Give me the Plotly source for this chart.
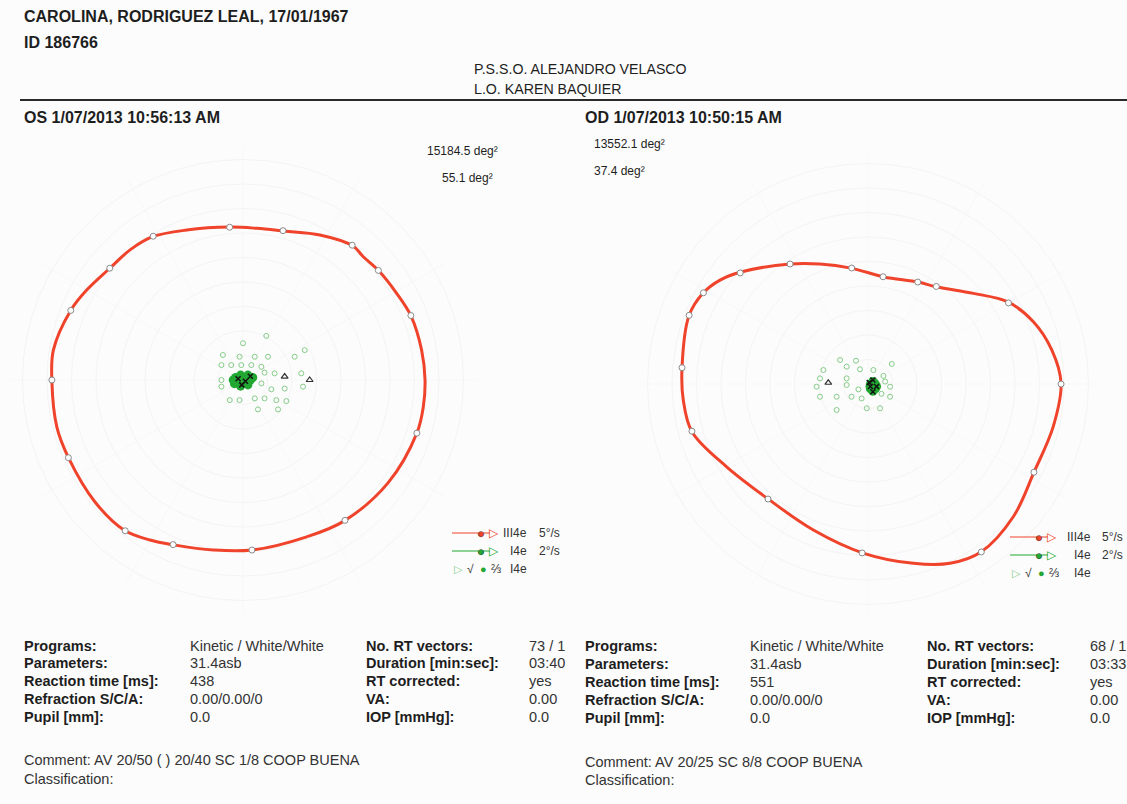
import numpy as np
import plotly.graph_objects as go

W, H = 1127, 804

# ------------------------------------------------------------------
# DATA
# ------------------------------------------------------------------
# III4e kinetic isopter vectors: meridian (deg, 0 = right, counter-clockwise), eccentricity (deg)
os_iii4e_meridian = [21, 39, 51, 75, 95, 122, 140, 158, 180, 204, 232, 247, 273, 306, 343]
os_iii4e_ecc = [73.4, 71.1, 70.8, 63.1, 62.6, 69.2, 71.0, 75.8, 78.0, 78.0, 78.1, 73.0, 69.5, 70.8, 74.2]

od_iii4e_meridian = [0, 30, 55, 64, 82, 98, 123, 139, 151, 159, 175, 195, 229, 268, 304, 332]
od_iii4e_ecc = [78.8, 66.2, 48.6, 46.3, 44.2, 47.8, 58.4, 69.1, 76.8, 78.2, 76.2, 74.4, 62.2, 69.0, 82.7, 76.7]

# III4e isopter outline as drawn (horizontal / vertical position in degrees)
os_outline_x = [74.3, 72.9, 68.6, 62.7, 55.5, 49.1, 44.9, 31.4, 16.7, 5.6, -5.3, -23.0, -37.1, -46.1,
                -54.7, -63.8, -70.2, -77.4, -78.0, -76.0, -71.0, -60.4, -48.6, -38.0, -28.2, -12.1,
                3.7, 26.0, 41.2, 59.2, 71.0, 73.6]
os_outline_y = [0.0, 12.2, 26.1, 35.4, 44.5, 50.3, 54.7, 59.2, 60.8, 61.9, 62.4, 61.2, 58.4, 53.1,
                45.3, 36.7, 28.6, 12.2, -0.4, -19.1, -32.2, -49.8, -61.2, -65.3, -67.3, -69.4,
                -69.4, -64.0, -57.6, -42.0, -21.6, -10.9]
od_outline_x = [78.8, 75.0, 67.5, 57.1, 43.0, 28.2, 20.4, 6.5, -6.9, -19.6, -31.8, -51.8, -60.4,
                -67.3, -73.1, -75.9, -75.4, -71.8, -57.7, -40.8, -22.3, -2.0, 18.5, 33.5, 46.1,
                59.3, 67.8, 75.6]
od_outline_y = [0.4, 13.9, 25.4, 33.5, 37.0, 39.6, 41.6, 43.7, 47.3, 49.0, 49.0, 45.7, 42.4,
                37.1, 27.8, 6.9, -6.5, -19.6, -33.8, -46.9, -59.6, -69.0, -73.2, -73.2, -68.6,
                -54.2, -35.9, -17.4]

# I4e static points (open = seen), horizontal / vertical position in degrees
os_i4e_open_x = [-8.2, -1.4, 4.8, 10.2, -8.8, -4.8, -0.7, 3.4, 7.5, 8.8, 12.9, -8.8, -8.8, 7.5, 11.6,
                 17.0, 24.5, -5.4, -1.4, 4.8, 8.8, 13.6, 17.7, 6.1, 14.3, 0.0, 9.5, 25.2, 21.1, 23.8]
os_i4e_open_y = [10.2, 9.5, 9.5, 9.5, 6.1, 6.1, 6.1, 6.1, 5.4, 3.0, 2.7, 0.0, -2.7, -1.4, -3.8,
                 -3.5, -2.7, -8.2, -8.2, -7.5, -7.5, -8.2, -8.6, -12.0, -12.0, 15.0, 18.0, 12.2, 9.5, 2.7]
# I4e dense central cluster (filled)
os_i4e_fill_x = [-3.0, -1.0, 1.0, 3.0, -2.0, 0.0, 2.0, -4.0, 4.0, 0.0, -1.0, 2.0, -3.5, 1.5]
os_i4e_fill_y = [1.0, 2.0, 1.0, 0.0, -1.0, -1.0, -2.0, 0.0, 1.0, 0.5, -2.5, 2.0, -1.5, -0.5]
# black marks inside cluster / blind spot
os_mark_x = [-2.0, 1.0, 3.0, -0.5]
os_mark_y = [0.5, -0.5, 1.5, -2.0]
os_blind_x = [17.0, 27.2]
os_blind_y = [1.4, 0.0]

od_i4e_open_x = [-11.4, -4.9, 9.7, -8.7, -3.3, 2.2, 6.3, -18.2, -19.6, -21.0, -19.6, -12.8, -8.7,
                 -6.7, -3.9, -2.6, 9.0, 9.0, -0.5, 4.9, -12.8, -8.7, 7.0, 5.5]
od_i4e_open_y = [9.8, 9.5, 8.2, 7.1, 6.0, 5.7, 3.3, 5.7, 2.3, -1.1, -5.2, -5.2, -0.4,
                 -5.2, -2.2, -5.9, -1.1, -5.2, -9.9, -9.9, -10.6, 2.3, 1.0, -4.0]
od_i4e_fill_x = [1.0, 2.0, 3.0, 2.0, 1.0, 3.0, 2.0, 2.5, 1.5, 3.5, 0.8]
od_i4e_fill_y = [0.0, 1.0, 0.0, -1.0, -2.0, -2.0, -3.0, 0.5, -1.5, -1.0, -1.0]
od_mark_x = [2.0, 1.0, 3.5, 2.0, 0.5]
od_mark_y = [1.6, -1.0, -1.0, -3.2, 0.6]
od_blind_x = [-16.2]
od_blind_y = [0.5]

# texts
header_name = "CAROLINA, RODRIGUEZ LEAL, 17/01/1967"
header_id = "ID 186766"
staff = ["P.S.S.O. ALEJANDRO VELASCO", "L.O. KAREN BAQUIER"]
os_title = "OS 1/07/2013 10:56:13 AM"
od_title = "OD 1/07/2013 10:50:15 AM"
os_areas = ["15184.5 deg²", "55.1 deg²"]
od_areas = ["13552.1 deg²", "37.4 deg²"]

table_labels_1 = ["Programs:", "Parameters:", "Reaction time [ms]:", "Refraction S/C/A:", "Pupil [mm]:"]
table_labels_2 = ["No. RT vectors:", "Duration [min:sec]:", "RT corrected:", "VA:", "IOP [mmHg]:"]
os_values_1 = ["Kinetic / White/White", "31.4asb", "438", "0.00/0.00/0", "0.0"]
os_values_2 = ["73 / 1", "03:40", "yes", "0.00", "0.0"]
od_values_1 = ["Kinetic / White/White", "31.4asb", "551", "0.00/0.00/0", "0.0"]
od_values_2 = ["68 / 1", "03:33", "yes", "0.00", "0.0"]
os_comment = "Comment: AV 20/50 ( ) 20/40 SC 1/8 COOP BUENA"
od_comment = "Comment: AV 20/25 SC 8/8 COOP BUENA"
classification = "Classification:"

legend_labels = [("III4e", "5°/s"), ("I4e", "2°/s"), ("I4e", "")]

# ------------------------------------------------------------------
# STYLE / LAYOUT
# ------------------------------------------------------------------
RED = "#f0432b"
GREEN_OPEN = "#86cc88"
GREEN_FILL = "#22a832"
TXT = "#1e1e1e"
FONT = "Arial, Liberation Sans, sans-serif"
PX_PER_DEG = 2.45
R_MAX = 95
TS = 14.5  # table font size


def xy_to_polar(x, y):
    x = np.asarray(x, float)
    y = np.asarray(y, float)
    return np.hypot(x, y), np.degrees(np.arctan2(y, x))


def closed(a):
    a = list(a)
    return a + [a[0]]


def polar_layout(cx, cy):
    R = R_MAX * PX_PER_DEG
    return dict(
        domain=dict(x=[(cx - R) / W, (cx + R) / W], y=[1 - (cy + R) / H, 1 - (cy - R) / H]),
        bgcolor="rgba(0,0,0,0)",
        radialaxis=dict(range=[0, R_MAX], tickvals=list(range(10, 91, 10)), showticklabels=False,
                        ticks="", showline=False, gridcolor="#f4f4f4", gridwidth=1),
        angularaxis=dict(rotation=0, direction="counterclockwise", tickvals=list(range(0, 360, 30)),
                         showticklabels=False, ticks="", showline=False, gridcolor="#f8f8f8"),
    )


fig = go.Figure()


def add_eye(sub, meridian, ecc, out_x, out_y, open_x, open_y, fill_x, fill_y,
            mark_x, mark_y, blind_x, blind_y):
    # isopter line
    r, t = xy_to_polar(out_x, out_y)
    fig.add_trace(go.Scatterpolar(r=closed(r), theta=closed(t), mode="lines",
                                  line=dict(color=RED, width=3, shape="spline", smoothing=1.0),
                                  subplot=sub, showlegend=False, hoverinfo="skip"))
    # vectors
    fig.add_trace(go.Scatterpolar(r=ecc, theta=meridian, mode="markers",
                                  marker=dict(symbol="circle", size=6, color="white",
                                              line=dict(color="#8a8a8a", width=1)),
                                  subplot=sub, showlegend=False))
    r, t = xy_to_polar(open_x, open_y)
    fig.add_trace(go.Scatterpolar(r=r, theta=t, mode="markers",
                                  marker=dict(symbol="circle-open", size=5, color=GREEN_OPEN,
                                              line=dict(width=1)),
                                  subplot=sub, showlegend=False))
    r, t = xy_to_polar(fill_x, fill_y)
    fig.add_trace(go.Scatterpolar(r=r, theta=t, mode="markers",
                                  marker=dict(symbol="circle", size=9, color=GREEN_FILL),
                                  subplot=sub, showlegend=False))
    r, t = xy_to_polar(mark_x, mark_y)
    fig.add_trace(go.Scatterpolar(r=r, theta=t, mode="markers",
                                  marker=dict(symbol="x-thin-open", size=5, color="#111",
                                              line=dict(width=1.5)),
                                  subplot=sub, showlegend=False))
    r, t = xy_to_polar(blind_x, blind_y)
    fig.add_trace(go.Scatterpolar(r=r, theta=t, mode="markers",
                                  marker=dict(symbol="triangle-up-open", size=6, color="#333",
                                              line=dict(width=1.2)),
                                  subplot=sub, showlegend=False))


add_eye("polar", os_iii4e_meridian, os_iii4e_ecc, os_outline_x, os_outline_y,
        os_i4e_open_x, os_i4e_open_y, os_i4e_fill_x, os_i4e_fill_y,
        os_mark_x, os_mark_y, os_blind_x, os_blind_y)
add_eye("polar2", od_iii4e_meridian, od_iii4e_ecc, od_outline_x, od_outline_y,
        od_i4e_open_x, od_i4e_open_y, od_i4e_fill_x, od_i4e_fill_y,
        od_mark_x, od_mark_y, od_blind_x, od_blind_y)

annotations = []
shapes = [dict(type="line", xref="paper", yref="paper", x0=20 / W, x1=1.0,
               y0=1 - 100 / H, y1=1 - 100 / H, line=dict(color="#2a2a2a", width=2))]


def txt(x, y, s, size=14, bold=False, color=TXT, anchor="left"):
    if bold:
        s = "<b>" + s + "</b>"
    annotations.append(dict(x=x / W, y=1 - y / H, xref="paper", yref="paper", text=s,
                            showarrow=False, xanchor=anchor, yanchor="middle",
                            font=dict(family=FONT, size=size, color=color)))


# header
txt(22, 16, header_name, 16, True)
txt(22, 42, header_id, 16, True)
txt(472, 69, staff[0], 14.2)
txt(472, 89, staff[1], 14.2)
txt(22, 118, os_title, 16, True)
txt(583, 118, od_title, 16, True)
txt(425, 151, os_areas[0], 12)
txt(440, 178, os_areas[1], 12)
txt(592, 144, od_areas[0], 12)
txt(592, 171, od_areas[1], 12)

# table
rows_y_os = [646, 663, 681, 699, 717]
rows_y_od = [646, 664, 682, 700, 718]
for i in range(5):
    txt(22, rows_y_os[i], table_labels_1[i], TS, True)
    txt(188, rows_y_os[i], os_values_1[i], TS, color="#333")
    txt(364, rows_y_os[i], table_labels_2[i], TS, True)
    txt(527, rows_y_os[i], os_values_2[i], TS, color="#333")
    txt(583, rows_y_od[i], table_labels_1[i], TS, True)
    txt(748, rows_y_od[i], od_values_1[i], TS, color="#333")
    txt(925, rows_y_od[i], table_labels_2[i], TS, True)
    txt(1088, rows_y_od[i], od_values_2[i], TS, color="#333")
txt(22, 760, os_comment, TS, color="#333")
txt(22, 779, classification, TS, color="#333")
txt(583, 762, od_comment, TS, color="#333")
txt(583, 780, classification, TS, color="#333")


# legends
def legend(x0, y0, xl, xs):
    for i, col in enumerate([RED, GREEN_FILL]):
        y = y0 + 18 * i
        shapes.append(dict(type="line", xref="paper", yref="paper", x0=x0 / W, x1=(x0 + 38) / W,
                           y0=1 - y / H, y1=1 - y / H, line=dict(color=col, width=1.2)))
        txt(x0 + 29, y, "●", 13, color=col, anchor="center")
        txt(x0 + 29, y, "○", 13, color="#333", anchor="center")
        txt(x0 + 42, y, "▷", 12, color=col, anchor="center")
    y = y0 + 36
    txt(x0, y, "▷", 11, color=GREEN_OPEN)
    txt(x0 + 13, y, "√", 12, color="#333")
    txt(x0 + 26, y, "●", 11, color=GREEN_FILL)
    txt(x0 + 37, y, "⅔", 12, color="#333")
    for i in range(3):
        yy = y0 + 18 * i
        lab, spd = legend_labels[i]
        txt(xl, yy, lab, 12, color="#333", anchor="right")
        if spd:
            txt(xs, yy, spd, 12, color="#333")


legend(452, 533, 529, 537)
legend(1010, 537, 1093, 1100)

fig.update_layout(
    width=W, height=H,
    margin=dict(l=0, r=0, t=0, b=0),
    paper_bgcolor="#fcfcfc",
    plot_bgcolor="#fcfcfc",
    polar=polar_layout(243, 380),
    polar2=polar_layout(868, 384),
    annotations=annotations,
    shapes=shapes,
    showlegend=False,
)

fig.write_html("out.html")
